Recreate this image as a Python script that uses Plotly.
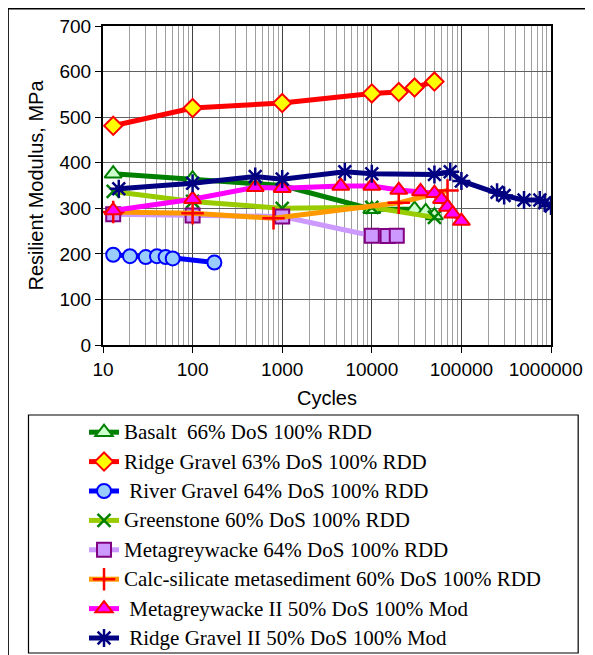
import plotly.graph_objects as go

# ---------------- data ----------------
basalt_x = [13, 100, 1000, 10000, 30000, 40000, 50000]
basalt_y = [376, 365, 350, 298, 298, 293, 284]

ridge_x = [13, 100, 1000, 10000, 20000, 30000, 50000]
ridge_y = [481, 520, 531, 552, 555, 565, 578]

river_x = [13, 20, 30, 40, 50, 60, 175]
river_y = [198, 195, 193, 195, 193, 190, 181]

green_x = [13, 100, 1000, 10000, 50000]
green_y = [337, 315, 300, 302, 280]

meta_x = [13, 100, 1000, 10000, 15000, 19000]
meta_y = [287, 284, 282, 240, 239, 240]

calc_x = [13, 100, 800, 20000, 70000]
calc_y = [292, 289, 278, 312, 339]

meta2_x = [13, 100, 500, 1000, 4500, 10000, 20000, 35000, 50000, 60000, 70000, 80000, 100000]
meta2_y = [295, 320, 346, 344, 349, 349, 340, 337, 333, 320, 303, 288, 272]

ridge2_x = [15, 100, 500, 1000, 5000, 10000, 50000, 75000, 100000, 250000, 300000,
            500000, 750000, 850000, 1000000]
ridge2_y = [343, 355, 370, 364, 380, 376, 374, 380, 360, 335, 328, 318, 318, 312, 305]

x_tickvals = [10, 100, 1000, 10000, 100000, 1000000]
x_ticktext = ["10", "100", "1000", "10000", "100000", "1000000\u00a0\u00a0"]

names = [
    "Basalt\u00a0\u00a066% DoS 100% RDD",
    "Ridge Gravel 63% DoS 100% RDD",
    "\u00a0River Gravel 64% DoS 100% RDD",
    "Greenstone 60% DoS 100% RDD",
    "Metagreywacke 64% DoS 100% RDD",
    "Calc-silicate metasediment 60% DoS 100% RDD",
    "\u00a0Metagreywacke II 50% DoS 100% Mod",
    "\u00a0Ridge Gravel II 50% DoS 100% Mod",
]

series = [
    (basalt_x, basalt_y, "#008000", dict(symbol="triangle-up", size=15, color="#ccffcc",
                                          line=dict(color="#008000", width=2))),
    (ridge_x, ridge_y, "#ff0000", dict(symbol="diamond", size=14, color="#ffff00",
                                        line=dict(color="#ff0000", width=2))),
    (river_x, river_y, "#0000ff", dict(symbol="circle", size=14, color="#99ccff",
                                        line=dict(color="#0000ff", width=2))),
    (green_x, green_y, "#99cc00", dict(symbol="x-thin-open", size=13, color="#008000",
                                        line=dict(color="#008000", width=2.5))),
    (meta_x, meta_y, "#cc99ff", dict(symbol="square", size=14, color="#cc99ff",
                                      line=dict(color="#800080", width=2))),
    (calc_x, calc_y, "#ff9900", dict(symbol="cross-thin-open", size=16, color="#ff0000",
                                      line=dict(color="#ff0000", width=2.5))),
    (meta2_x, meta2_y, "#ff00ff", dict(symbol="triangle-up", size=15, color="#ff00ff",
                                        line=dict(color="#ff0000", width=2))),
    (ridge2_x, ridge2_y, "#000080", dict(symbol="asterisk-open", size=15, color="#000080",
                                          line=dict(color="#000080", width=2.5))),
]

fig = go.Figure()
for name, (xs, ys, lc, mk) in zip(names, series):
    fig.add_trace(go.Scatter(
        x=xs, y=ys, name='<span style="font-size:21px">' + name + '</span>',
        mode="lines+markers",
        line=dict(color=lc, width=5), marker=mk,
        legendgroup=name,
    ))

# page body has an 8px margin: screen = figure + 8
OFF = 8
W, H = 593, 655
L = 103 - OFF
T = 26 - OFF
R = W - (551.5 - OFF)
B = H - (345 - OFF)
pw = W - L - R
ph = H - T - B

def px(x):
    return (x - OFF - L) / pw

def py(y):
    return (H - B - (y - OFF)) / ph

fig.update_layout(
    width=W, height=H,
    margin=dict(l=L, r=R, t=T, b=B, autoexpand=False),
    paper_bgcolor="white", plot_bgcolor="white",
    font=dict(family="Liberation Sans, Arial", size=19, color="black"),
    showlegend=True,
    legend=dict(
        x=px(84), y=py(414), xanchor="left", yanchor="top",
        font=dict(family="Liberation Serif, Times New Roman", size=18, color="black"),
        bgcolor="rgba(0,0,0,0)", borderwidth=0,
        traceorder="grouped", tracegroupgap=3,
    ),
    shapes=[
        dict(type="rect", xref="paper", yref="paper",
             x0=px(8), x1=px(620), y0=py(680), y1=py(8.7),
             line=dict(color="black", width=1.5), fillcolor="rgba(0,0,0,0)", layer="below"),
        dict(type="rect", xref="paper", yref="paper",
             x0=px(28.4), x1=px(578.7), y0=py(653), y1=py(415),
             line=dict(color="black", width=1.2), fillcolor="rgba(0,0,0,0)"),
    ],
)

fig.update_xaxes(
    type="log", range=[1, 6],
    tickvals=x_tickvals, ticktext=x_ticktext,
    ticks="outside", ticklen=6, tickcolor="black", tickwidth=1,
    showgrid=True, gridcolor="#404040", gridwidth=1,
    minor=dict(dtick="D1", showgrid=True, gridcolor="#a0a0a0", gridwidth=1, ticks=""),
    showline=True, linecolor="black", linewidth=2, mirror=True,
    title=dict(text="Cycles", font=dict(size=20), standoff=12),
    zeroline=False,
)
fig.update_yaxes(
    range=[0, 700], dtick=100,
    ticks="outside", ticklen=6, tickcolor="black", tickwidth=1,
    showgrid=True, gridcolor="#606060", gridwidth=1,
    showline=True, linecolor="black", linewidth=2, mirror=True,
    title=dict(text="Resilient Modulus, MPa", font=dict(size=20), standoff=10),
    zeroline=False,
)

fig.write_html("out.html")
